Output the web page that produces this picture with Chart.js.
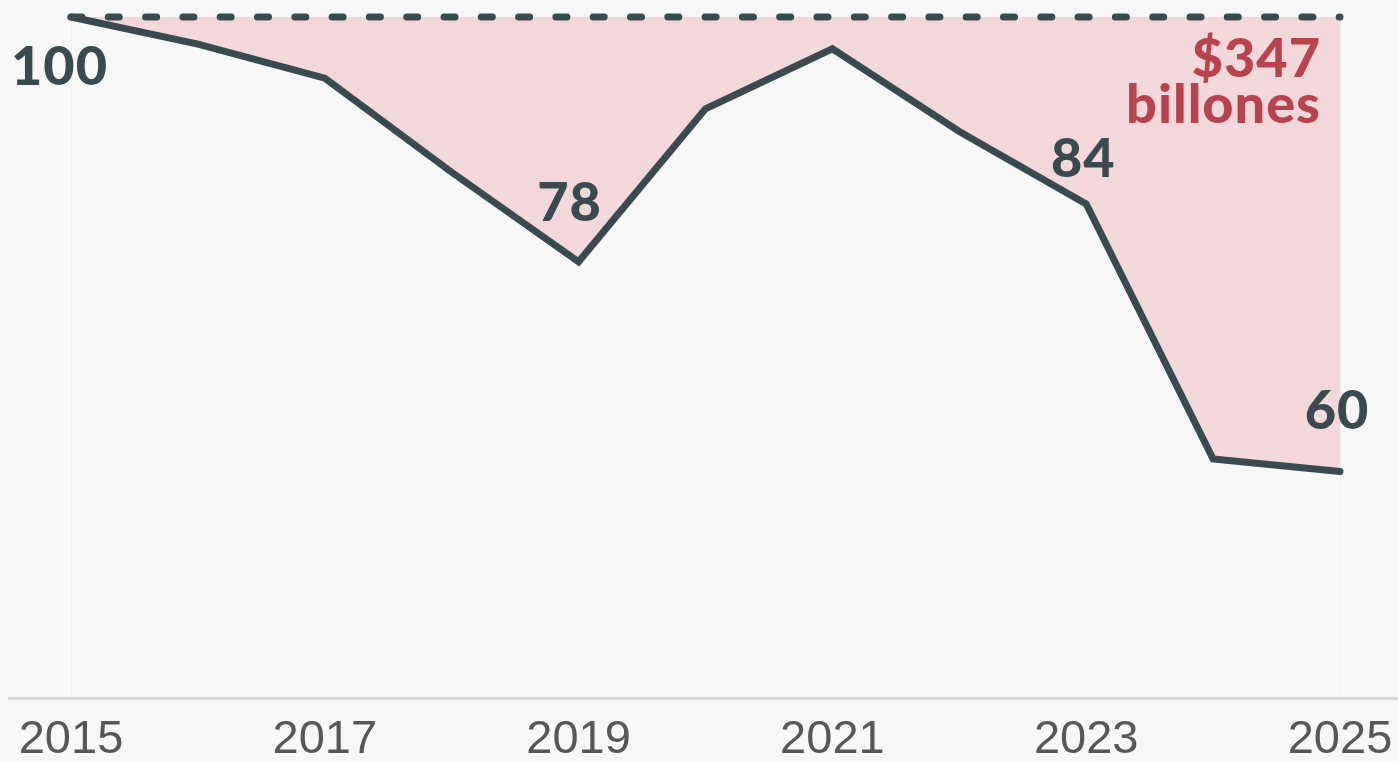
<!DOCTYPE html>
<html>
<head>
<meta charset="utf-8">
<script src="https://cdn.jsdelivr.net/npm/chart.js@4.4.1/dist/chart.umd.min.js"></script>
<style>
  html, body { margin: 0; padding: 0; background: #f7f7f7; overflow: hidden; }
  #wrap { width: 1398px; height: 761px; }
</style>
</head>
<body>
<div id="wrap"><canvas id="grafico" width="1398" height="761"></canvas></div>
<script>
// Datos
const anios = ['2015', '2016', '2017', '2018', '2019', '2020', '2021', '2022', '2023', '2024', '2025'];
const indice = [100, 97.6, 94.6, 86.3, 78.4, 91.9, 97.2, 89.9, 83.5, 61.0, 59.9];
const base = [100, 100, 100, 100, 100, 100, 100, 100, 100, 100, 100];
const etiquetasAnio = ['2015', '2017', '2019', '2021', '2023', '2025'];

// Etiquetas de valor: índice del año, texto, desplazamientos
const etiquetasValor = [
  { i: 4, texto: '78', dx: -9, dy: 41 },
  { i: 8, texto: '84', dx: -3, dy: 27 },
  { i: 10, texto: '60', dx: -3, dy: 42 }
];

const GRIS = '#3b4a4f';
const ROJO = '#b8434e';
const FUENTE = '"Lato", "Roboto", sans-serif';

const pluginAnotaciones = {
  id: 'anotaciones',
  beforeDatasetsDraw(chart) {
    const { ctx, scales: { y } } = chart;
    const yb = y.getPixelForValue(40);
    ctx.save();
    ctx.strokeStyle = '#d6d6d6';
    ctx.lineWidth = 3;
    ctx.beginPath();
    ctx.moveTo(8, yb + 1.5);
    ctx.lineTo(chart.width, yb + 1.5);
    ctx.stroke();
    ctx.restore();
  },
  afterDatasetsDraw(chart) {
    const { ctx, chartArea, scales: { x, y } } = chart;
    ctx.save();
    ctx.font = '900 54px ' + FUENTE;
    ctx.letterSpacing = '1px';
    ctx.fillStyle = GRIS;
    ctx.textBaseline = 'alphabetic';

    // "100" bajo el primer punto
    ctx.textAlign = 'left';
    ctx.fillText('100', 11, y.getPixelForValue(indice[0]) + 68);

    ctx.textAlign = 'center';
    etiquetasValor.forEach(e => {
      const px = x.getPixelForValue(e.i);
      const py = y.getPixelForValue(indice[e.i]);
      ctx.fillText(e.texto, px + e.dx, py - e.dy);
    });

    // Total acumulado
    ctx.fillStyle = ROJO;
    ctx.textAlign = 'right';
    const top = y.getPixelForValue(100);
    ctx.fillText('$347', chartArea.right - 19, top + 60);
    ctx.fillText('billones', chartArea.right - 19, top + 106);
    ctx.restore();
  }
};

new Chart(document.getElementById('grafico'), {
  type: 'line',
  data: {
    labels: anios,
    datasets: [
      {
        data: indice,
        borderColor: GRIS,
        borderWidth: 7,
        borderCapStyle: 'round',
        borderJoinStyle: 'miter',
        backgroundColor: '#f2d8db',
        fill: { value: 100 },
        pointRadius: 0,
        tension: 0,
        clip: false,
        order: 2
      },
      {
        data: base,
        borderColor: GRIS,
        borderWidth: 7,
        borderDash: [11, 26.3],
        borderCapStyle: 'round',
        fill: false,
        pointRadius: 0,
        clip: false,
        order: 1
      }
    ]
  },
  options: {
    responsive: false,
    animation: false,
    layout: { padding: { left: 71, right: 58, top: 17, bottom: 0 } },
    plugins: { legend: { display: false }, tooltip: { enabled: false } },
    scales: {
      x: {
        type: 'category',
        grid: {
          drawTicks: false,
          color: c => (c.index === 0 || c.index === anios.length - 1) ? '#efefef' : 'rgba(0,0,0,0)',
          lineWidth: 1
        },
        border: { display: false },
        afterFit: s => { s.height = 64; s.paddingLeft = 0; s.paddingRight = 0; },
        ticks: {
          autoSkip: false,
          maxRotation: 0,
          padding: 15,
          color: '#575757',
          font: { family: '"Liberation Sans", Arial, sans-serif', size: 47 },
          callback: function (v) {
            const lab = this.getLabelForValue(v);
            return etiquetasAnio.includes(lab) ? lab : '';
          }
        }
      },
      y: {
        display: false,
        min: 40,
        max: 100
      }
    }
  },
  plugins: [pluginAnotaciones]
});
</script>
</body>
</html>
